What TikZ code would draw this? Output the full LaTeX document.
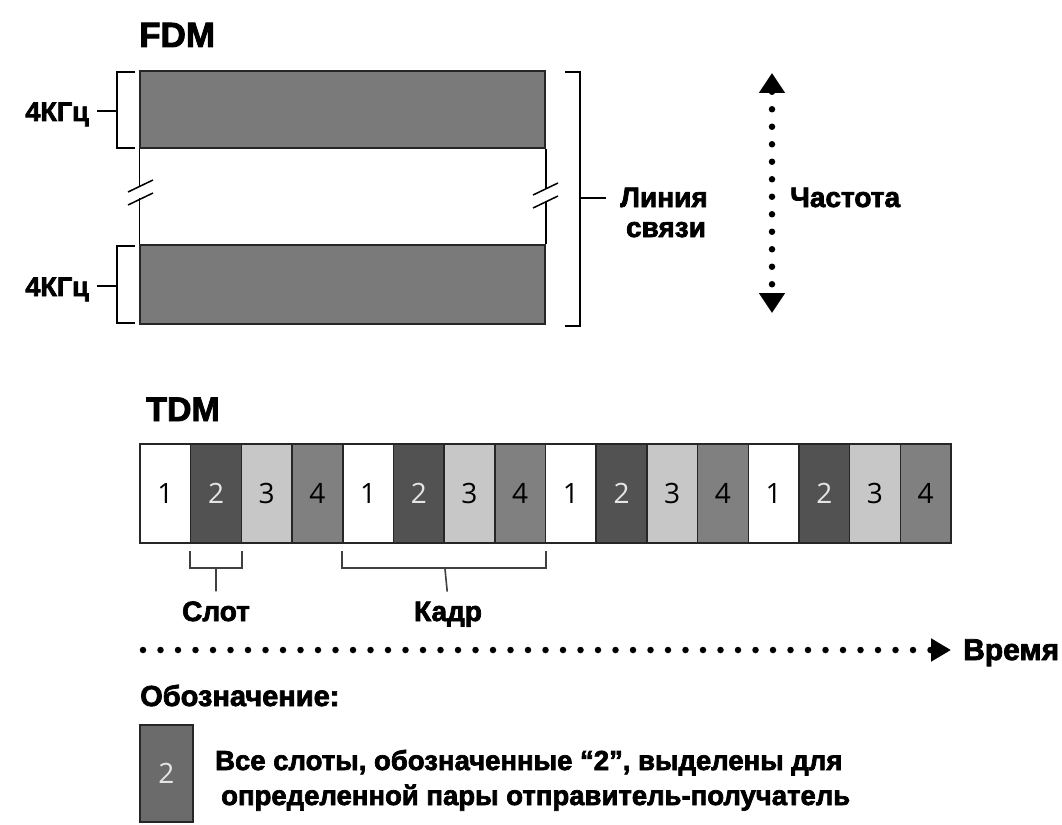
\documentclass[tikz,border=0pt]{standalone}
\usepackage{fontspec}
\setmainfont{Liberation Sans}[BoldFeatures={FakeBold=2.5}]
\newfontfamily\digitfont{Open Sans}
\usetikzlibrary{arrows.meta,positioning}

\begin{document}
\begin{tikzpicture}[
  x=1pt, y=-1pt,
  lbl/.style={font=\bfseries\fontsize{28}{32}\selectfont, inner sep=2pt},
  title/.style={font=\bfseries\fontsize{35}{38}\selectfont, inner sep=0pt},
  legtxt/.style={font=\bfseries\fontsize{27.5}{30}\selectfont, inner sep=2pt},
  band/.style={draw=black!85, line width=1.5pt, fill=black!52, minimum width=405pt, inner sep=0pt},
  slot/.style={draw=black!85, line width=1.5pt, minimum width=50.69pt, minimum height=99pt,
    inner sep=0pt, font=\digitfont\fontsize{28}{30}\selectfont},
  slot1/.style={fill=white},
  slot2/.style={fill=black!68, text=black!10},
  slot3/.style={fill=black!22},
  slot4/.style={fill=black!50},
  brk/.style={line width=2.8pt},
  tick/.style={black!75, line width=1.6pt},
  dotline/.style={line width=6.5pt, line cap=round, dash pattern=on 0pt off 17.5pt}
]
\fill[white] (0,0) rectangle (1062,824);
\useasboundingbox (0,0) rectangle (1062,824);

% FDM
\node[title, anchor=base west] (fdm) at (139,47) {FDM};
\node[band, minimum height=77pt] (bandA) at (342.5,109.5) {};
\node[band, minimum height=79pt] (bandB) at (342.5,284.5) {};
\draw[line width=1.5pt] (bandA.south west) -- ++(0,37);
\draw[line width=1.5pt] (bandB.north west) -- ++(0,-46);
\draw[line width=1.5pt] (bandA.south east) -- ++(0,40);
\draw[line width=1.5pt] (bandB.north east) -- ++(0,-43);
\draw[line width=1.5pt] (128,192) -- (153,180);
\draw[line width=1.5pt] (128,205) -- (153,193);
\draw[line width=1.5pt] (533,195) -- (558,183);
\draw[line width=1.5pt] (533,208) -- (558,196);

% brackets
\draw[brk] (135,72) -| (117,148) -- (135,148);
\draw[brk] (135,246) -| (117,323) -- (135,323);
\coordinate (kA) at (117,111);
\coordinate (kB) at (117,286);
\node[lbl, anchor=base east, font=\bfseries\fontsize{27}{30}\selectfont] (khzA) at (91,121) {4КГц};
\node[lbl, anchor=base east, font=\bfseries\fontsize{27}{30}\selectfont] (khzB) at (91,296) {4КГц};
\draw[brk, shorten >=6pt] (kA) -- (kA -| khzA.east);
\draw[brk, shorten >=6pt] (kB) -- (kB -| khzB.east);

\draw[brk] (565,72) -| (580,326) -- (565,326);
\coordinate (kR) at (580,198);
\node[lbl, anchor=base] (linia) at (664,207) {Линия};
\node[lbl, anchor=base] (svyazi) at (666,237) {связи};
\draw[brk, shorten >=12pt] (kR) -- (kR -| linia.west);

\coordinate (fTop) at (772,73);
\coordinate (fBot) at (772,313);
\draw[dotline, {Triangle[width=25pt,length=20pt]}-{Triangle[width=25pt,length=20pt]}] (fTop) -- (fBot);
\node[lbl, anchor=base west] (chastota) at (788,207) {Частота};

% TDM
\node[title, anchor=base west, font=\bfseries\fontsize{34}{38}\selectfont] (tdm) at (146,421) {TDM};
\foreach \i in {1,...,16} {
  \pgfmathsetmacro\xc{140+(\i-0.5)*50.6875}
  \pgfmathtruncatemacro\k{mod(\i-1,4)+1}
  \node[slot, slot\k] (s\i) at (\xc,493.5) {\k};
}
\draw[tick] ([yshift=-7pt]s2.south west) -- ++(0,17) -| ([yshift=-7pt]s2.south east);
\draw[tick] ([yshift=-7pt]s5.south west) -- ++(0,17) -| ([yshift=-7pt]s8.south east);
\node[lbl, anchor=base] (slotlbl) at (216,621) {Слот};
\node[lbl, anchor=base] (kadr) at (448,621) {Кадр};
\draw[tick, shorten >=8pt] ([yshift=-24pt]s2.south) -- (slotlbl.north);
\draw[tick, shorten >=8pt] ([yshift=-24pt]s6.south east) -- (kadr.north);

\coordinate (tStart) at (143,650);
\node[lbl, anchor=base west, font=\bfseries\fontsize{30}{32}\selectfont] (vremya) at (961,660) {Время};
\draw[dotline, -{Triangle[width=22pt,length=20pt]}, shorten >=10pt] (tStart) -- (tStart -| vremya.west);

% legend
\node[lbl, anchor=base west, font=\bfseries\fontsize{29}{32}\selectfont] (oboz) at (138,706) {Обозначение:};
\node[slot, slot2, fill=black!58, minimum width=53pt, minimum height=97pt] (legbox) at (166.5,773.5) {2};
\node[legtxt, anchor=base west] (legA) at (213,770) {Все слоты, обозначенные “2”, выделены для};
\node[legtxt, anchor=base west] (legB) at (219,805) {определенной пары отправитель-получатель};
\end{tikzpicture}
\end{document}
